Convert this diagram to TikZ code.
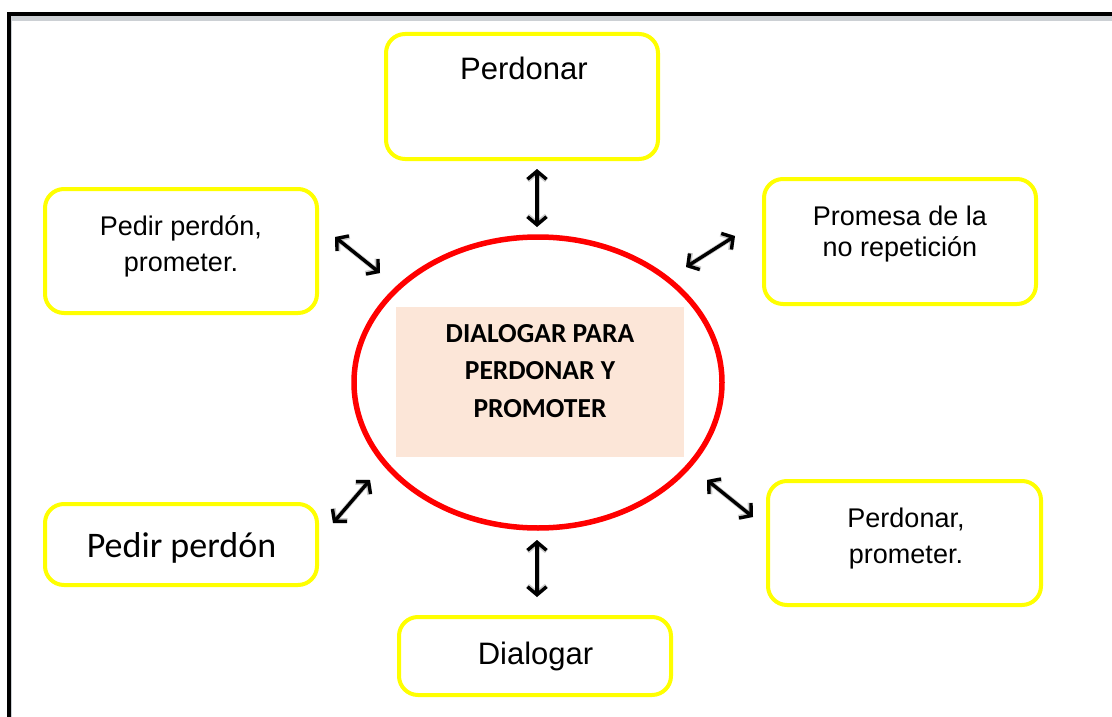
\documentclass[tikz,border=0pt]{standalone}
\usepackage{fontspec}
\setmainfont{Liberation Sans}
\newfontfamily\calibri{Carlito}
\usetikzlibrary{shapes.geometric,arrows.meta}
\definecolor{ybox}{RGB}{255,255,0}
\definecolor{peach}{RGB}{252,230,216}
\definecolor{framegray}{RGB}{204,208,212}
\tikzset{
  ybox/.style={draw=ybox, line width=4pt, rounded corners=19pt, fill=white, inner sep=0pt},
  lbl/.style={inner sep=0pt, align=center},
  dblarrow/.style={line width=3.4pt, {Straight Barb[length=8pt,width=19pt]}-{Straight Barb[length=8pt,width=19pt]}},
  arrshadow/.style={line width=5pt, black, opacity=0.2, {Straight Barb[length=8pt,width=19pt]}-{Straight Barb[length=8pt,width=19pt]}, shift={(2,2)}}
}
\begin{document}
\begin{tikzpicture}[x=1pt,y=-1pt]
\useasboundingbox (0,0) rectangle (1112,717);
\fill[white] (0,0) rectangle (1112,717);
% frame
\fill[framegray] (11,16) rectangle (1112,21);
\fill[black] (7,12) rectangle (1112,16);
\fill[black] (7,12) rectangle (11,717);
\fill[framegray] (11,16) rectangle (12,717);

% boxes
\node[ybox, minimum width=272pt, minimum height=125pt] (perdonar) at (522,96.5) {};
\node[ybox, minimum width=272pt, minimum height=124pt] (pedirprom) at (181,251) {};
\node[ybox, minimum width=272pt, minimum height=125pt] (promesa) at (900,241.5) {};
\node[ybox, minimum width=272pt, minimum height=81pt] (pedir) at (181,544.5) {};
\node[ybox, minimum width=273pt, minimum height=124pt] (perdprom) at (904.5,543) {};
\node[ybox, minimum width=272pt, minimum height=78pt] (dialogar) at (535,656) {};

% texts
\node[lbl, anchor=base, font=\fontsize{31}{37}\selectfont] (tperdonar) at (524,80) {Perdonar};
\node[lbl, anchor=north, font=\fontsize{27}{36}\selectfont] (tpedirprom) at (181,209.8) {\strut Pedir perdón,\\\strut prometer.};
\node[lbl, anchor=north, font=\fontsize{27}{31}\selectfont] (tpromesa) at (900,203.3) {\strut Promesa de la\\\strut no repetición};
\node[lbl, anchor=base, font=\calibri\fontsize{36}{43}\selectfont] (tpedir) at (181.5,557) {Pedir perdón};
\node[lbl, anchor=north, font=\fontsize{27}{36}\selectfont] (tperdprom) at (906,501.8) {\strut Perdonar,\\\strut prometer.};
\node[lbl, anchor=base, font=\fontsize{31}{37}\selectfont] (tdialogar) at (535.5,664) {Dialogar};

% central ellipse and rectangle
\node[ellipse, draw=red, line width=5.5pt, minimum width=368pt, minimum height=291pt, inner sep=0pt] (centre) at (538,382.5) {};
\node[fill=peach, minimum width=288pt, minimum height=150pt, inner sep=0pt] (core) at (540,382) {};
\node[lbl, anchor=north, font=\calibri\bfseries\fontsize{27.5}{37.5}\selectfont] (tcore) at (540,315.75) {\strut DIALOGAR PARA\\\strut PERDONAR Y\\\strut PROMOTER};

% arrow end points
\coordinate (a1s) at (537,169); \coordinate (a1e) at (537,227);
\coordinate (a2s) at (335,237); \coordinate (a2e) at (380,273);
\coordinate (a3s) at (735,236); \coordinate (a3e) at (686,267);
\coordinate (a4s) at (333,523); \coordinate (a4e) at (370,480);
\coordinate (a5s) at (707,480); \coordinate (a5e) at (753,517);
\coordinate (a6s) at (537,540); \coordinate (a6e) at (537,597);

\foreach \i in {1,...,6}{
  \draw[arrshadow] (a\i s) -- (a\i e);
}
\foreach \i in {1,...,6}{
  \draw[dblarrow] (a\i s) -- (a\i e);
}
\end{tikzpicture}
\end{document}
